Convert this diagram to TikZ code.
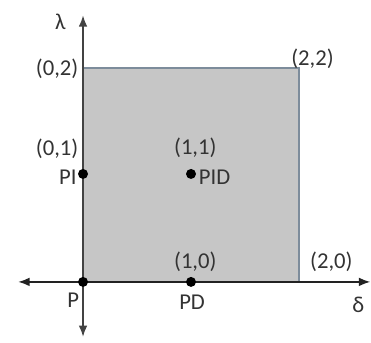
\documentclass[tikz,border=0pt]{standalone}
\usepackage{fontspec}
\setmainfont{Carlito}
\usepackage{tikz}
\usetikzlibrary{arrows.meta,positioning}
\definecolor{regionfill}{HTML}{C6C6C6}
\definecolor{regionedge}{HTML}{7D8C9B}
\definecolor{axisink}{HTML}{222222}

\begin{document}
\begin{tikzpicture}[font=\fontsize{17}{20}\selectfont,
    dot/.style={circle,fill=black,inner sep=0pt,minimum size=7.5pt},
    lbl/.style={inner sep=0pt,text=black!80}]
  \begin{scope}[x=81pt,y=81pt]
    \useasboundingbox (-0.769,-0.565) rectangle (2.667,2.611);
    % shaded region
    \fill[regionfill,draw=regionedge,line width=1pt] (0,0) rectangle (2,1.98);

    \coordinate (xl) at (-0.60,0);
    \coordinate (xr) at (2.66,0);
    \coordinate (yb) at (0,-0.51);
    \coordinate (yt) at (0,2.47);
    \draw[{Latex[length=3mm,width=2.3mm]}-{Latex[length=3mm,width=2.3mm]},
      axisink,line width=1.1pt] (xl)--(xr);
    \draw[{Latex[length=3mm,width=2.3mm]}-{Latex[length=3mm,width=2.3mm]},
      axisink!85,line width=1.4pt] (yb)--(yt);

    \node[dot] (p) at (0,0) {};
    \node[dot] (pi) at (0,1) {};
    \node[dot] (pd) at (1,0) {};
    \node[dot] (pid) at (1,1) {};

    \node[lbl] (plbl) at (-0.09,-0.17) {P};
    \node[lbl] (pilbl) at (-0.14,0.97) {PI};
    \node[lbl] (pdlbl) at (1.01,-0.19) {PD};
    \node[lbl,anchor=west] (pidlbl) at (1.07,0.97) {PID};

    \node[lbl] (c02) at (-0.24,1.97) {(0,2)};
    \node[lbl] (c01) at (-0.24,1.23) {(0,1)};
    \node[lbl] (c11) at (1.04,1.24) {(1,1)};
    \node[lbl] (c10) at (1.04,0.185) {(1,0)};
    \node[lbl] (c22) at (2.125,2.07) {(2,2)};
    \node[lbl] (c20) at (2.30,0.185) {(2,0)};

    \node[lbl] (lam) at (-0.21,2.41) {λ};
    \node[lbl] (del) at (2.55,-0.21) {δ};
  \end{scope}
\end{tikzpicture}
\end{document}
